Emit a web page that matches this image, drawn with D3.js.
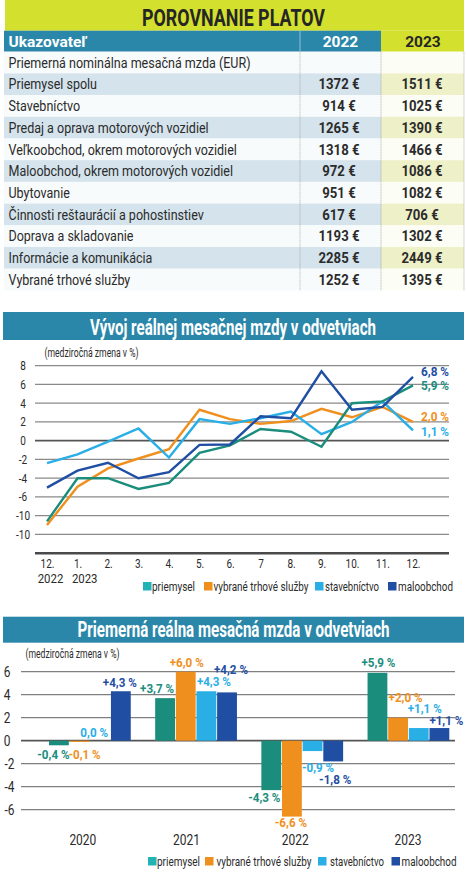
<!DOCTYPE html>
<html>
<head>
<meta charset="utf-8">
<script src="https://cdn.jsdelivr.net/npm/d3@7"></script>
<style>
  html, body { margin: 0; padding: 0; background: #ffffff; }
  svg { display: block; }
  text { font-family: Roboto, "Noto Sans", "DejaVu Sans", sans-serif; }
</style>
</head>
<body>
<svg id="chart" width="466" height="876"></svg>
<script>
// ---------------- DATA ----------------
const tableTitle = "POROVNANIE PLATOV";
const tableHeader = ["Ukazovateľ", "2022", "2023"];
const tableRows = [
  "Priemerná nominálna mesačná mzda (EUR)",
  "Priemysel spolu",
  "Stavebníctvo",
  "Predaj a oprava motorových vozidiel",
  "Veľkoobchod, okrem motorových vozidiel",
  "Maloobchod, okrem motorových vozidiel",
  "Ubytovanie",
  "Činnosti reštaurácií a pohostinstiev",
  "Doprava a skladovanie",
  "Informácie a komunikácia",
  "Vybrané trhové služby"
];
const wages2022 = [null, 1372, 914, 1265, 1318, 972, 951, 617, 1193, 2285, 1252];
const wages2023 = [null, 1511, 1025, 1390, 1466, 1086, 1082, 706, 1302, 2449, 1395];

const lineTitle = "Vývoj reálnej mesačnej mzdy v odvetviach";
const unitLabel = "(medziročná zmena v %)";
const monthLabels = ["12.", "1.", "2.", "3.", "4.", "5.", "6.", "7", "8.", "9.", "10.", "11.", "12."];
const monthYearLabels = ["2022", "2023", "", "", "", "", "", "", "", "", "", "", ""];
const seriesNames = ["priemysel", "vybrané trhové služby", "stavebníctvo", "maloobchod"];
const linePriemysel   = [-8.6, -4.0, -4.0, -5.15, -4.5, -1.3, -0.5, 1.25, 0.95, -0.65, 4.0, 4.2, 5.9];
const lineSluzby      = [-9.0, -4.9, -2.95, -1.9, -0.9, 3.3, 2.3, 1.8, 2.1, 3.4, 2.5, 3.6, 2.0];
const lineStavebnictvo= [-2.4, -1.45, -0.1, 1.3, -1.8, 2.3, 1.8, 2.4, 3.1, 0.7, 2.0, 4.2, 1.1];
const lineMaloobchod  = [-5.0, -3.2, -2.35, -4.0, -3.35, -0.45, -0.4, 2.6, 2.4, 7.4, 3.3, 3.6, 6.8];
const lineEndLabels = ["5,9 %", "2,0 %", "1,1 %", "6,8 %"];
const lineYTicks = [8, 6, 4, 2, 0, -2, -4, -6, -8, -10];
const lineYTickLabels = ["8", "6", "4", "2", "0", "-2", "-4", "-6", "-10", "-10"];

const barTitle = "Priemerná reálna mesačná mzda v odvetviach";
const barYears = ["2020", "2021", "2022", "2023"];
const barPriemysel    = [-0.4, 3.7, -4.3, 5.9];
const barSluzby       = [-0.1, 6.0, -6.6, 2.0];
const barStavebnictvo = [0.0, 4.3, -0.9, 1.1];
const barMaloobchod   = [4.3, 4.2, -1.8, 1.1];
const barYTicks = [6, 4, 2, 0, -2, -4, -6];

// ---------------- STYLE ----------------
const lime = "#d3e02d";
const limeLight = "#eef1c8";
const tealHeader = "#2b87a9";
const rowBlue = "#d4e3ec";
const rowWhite = "#f8fbfc";
const textDark = "#2b2b2b";
const lineColors = ["#1b8d7d", "#ef901e", "#2aaee6", "#1f4ea3"];
const swatchColors = ["#22b3b6", "#ef901e", "#2aaee6", "#1f4ea3"];
const labelColors = ["#1b8d7d", "#ef901e", "#2aaee6", "#1f4ea3"];

const svg = d3.select("#chart");

// condensed-font emulation: measure sample, derive horizontal factor
function factor(sample, size, weight, target) {
  const t = svg.append("text").attr("font-size", size).attr("font-weight", weight).text(sample);
  const w = t.node().getComputedTextLength();
  t.remove();
  return target / w;
}
function cond(sel, k) {
  sel.each(function () {
    const w = this.getComputedTextLength();
    if (w > 0) d3.select(this).attr("textLength", w * k).attr("lengthAdjust", "spacingAndGlyphs");
  });
  return sel;
}
function txt(x, y, s, size, weight, fill, anchor, k) {
  const t = svg.append("text").attr("x", x).attr("y", y).attr("font-size", size)
    .attr("font-weight", weight).attr("fill", fill).attr("text-anchor", anchor).text(s);
  if (k) cond(t, k);
  return t;
}

// ================= TABLE =================
const T = { left: 4, right: 464, c1: 300, c2: 381, headTop: 30.7, headH: 21, rowTop: 51.7, rowH: 21.7 };

svg.append("rect").attr("x", 5).attr("y", 0).attr("width", 459).attr("height", 30.7).attr("fill", lime);
txt(233.5, 25.5, tableTitle, 24.5, "bold", "#262626", "middle", factor(tableTitle, 24.5, "bold", 183));

svg.append("rect").attr("x", T.left).attr("y", T.headTop).attr("width", T.c2 - T.left).attr("height", T.headH).attr("fill", tealHeader);
svg.append("rect").attr("x", T.c2).attr("y", T.headTop).attr("width", T.right - T.c2).attr("height", T.headH).attr("fill", lime);
svg.append("line").attr("x1", T.c1).attr("x2", T.c1).attr("y1", T.headTop).attr("y2", T.headTop + T.headH).attr("stroke", "#8dbfd2").attr("stroke-width", 1);
const kHead = factor("Ukazovateľ", 15.5, "bold", 78);
txt(8.5, T.headTop + 16, tableHeader[0], 15.5, "bold", "#fff", "start", kHead);
txt(340.5, T.headTop + 16, tableHeader[1], 15.5, "bold", "#fff", "middle", kHead);
txt(423, T.headTop + 16, tableHeader[2], 15.5, "bold", "#262626", "middle", kHead);

const fmtEur = v => v == null ? "" : d3.format("d")(v) + " €";
const kRow = factor(tableRows[0], 15.5, "normal", 242);
const kVal = factor("1372 €", 15.5, "bold", 41);
tableRows.forEach((name, i) => {
  const y = T.rowTop + i * T.rowH;
  const blue = i % 2 === 1;
  svg.append("rect").attr("x", T.left).attr("y", y).attr("width", T.c2 - T.left).attr("height", T.rowH).attr("fill", blue ? rowBlue : rowWhite);
  svg.append("rect").attr("x", T.c2).attr("y", y).attr("width", T.right - T.c2).attr("height", T.rowH).attr("fill", blue ? limeLight : "#fcfdf4");
  txt(8.5, y + 16, name, 15.5, "normal", textDark, "start", kRow);
  if (wages2022[i] != null) txt(339, y + 16, fmtEur(wages2022[i]), 15.5, "bold", textDark, "middle", kVal);
  if (wages2023[i] != null) txt(422, y + 16, fmtEur(wages2023[i]), 15.5, "bold", textDark, "middle", kVal);
});
const tableBottom = T.rowTop + tableRows.length * T.rowH;
[T.c1, T.c2, T.right].forEach(x => {
  svg.append("line").attr("x1", x).attr("x2", x).attr("y1", T.rowTop).attr("y2", tableBottom)
    .attr("stroke", "#9a9a9a").attr("stroke-width", 0.8).attr("stroke-dasharray", "1,1");
});

// ================= LINE CHART =================
svg.append("rect").attr("x", 3).attr("y", 312).attr("width", 461).attr("height", 28).attr("fill", tealHeader);
txt(233, 334.5, lineTitle, 22.5, "bold", "#fff", "middle", factor(lineTitle, 22.5, "bold", 286));
const kUnit = factor(unitLabel, 12, "normal", 94);
txt(44.5, 357, unitLabel, 12, "normal", textDark, "start", kUnit);

const kTick = factor("-10", 13, "normal", 14);
const lx = d3.scalePoint().domain(d3.range(monthLabels.length)).range([47, 413]);
const ly = d3.scaleLinear().domain([-12, 8]).range([553.2, 365.7]);
lineYTicks.forEach((t, i) => {
  svg.append("line").attr("x1", 35).attr("x2", 449).attr("y1", ly(t)).attr("y2", ly(t))
    .attr("stroke", t === 0 ? "#555" : "#8a8a8a").attr("stroke-width", t === 0 ? 1.8 : 1.3);
  txt(23, ly(t) + 4.5, lineYTickLabels[i], 13, "normal", textDark, "middle", kTick);
});
const lxAxis = d3.axisBottom(lx).tickSize(0).tickFormat(i => monthLabels[i]);
const axG = svg.append("g").attr("transform", `translate(0,${ly(-12)})`).call(lxAxis);
axG.select(".domain").remove();
axG.selectAll(".tick text").attr("font-size", 13).attr("fill", textDark).attr("dy", 0).attr("y", 15)
  .attr("font-family", "Roboto, sans-serif");
cond(axG.selectAll(".tick text"), kTick);
svg.append("line").attr("x1", 35).attr("x2", 449).attr("y1", ly(-12)).attr("y2", ly(-12)).attr("stroke", "#4a4a4a").attr("stroke-width", 2.5);
const kYear = factor("2022", 13, "normal", 25.6);
const yearX = [50.5, 84.7];
monthYearLabels.forEach((lab, i) => {
  if (lab) txt(yearX[i], 583, lab, 13, "normal", textDark, "middle", kYear);
});

const lineSeries = [linePriemysel, lineSluzby, lineStavebnictvo, lineMaloobchod];
const lineGen = d3.line().x((d, i) => lx(i)).y(d => ly(d));
[1, 2, 0, 3].forEach(s => {
  svg.append("path").datum(lineSeries[s]).attr("d", lineGen).attr("fill", "none")
    .attr("stroke", lineColors[s]).attr("stroke-width", 2.4).attr("stroke-linejoin", "miter");
});
const endDy = [4.6, -1.3, 5.6, -1];
const kEnd = factor("6,8 %", 13.5, "bold", 28);
lineSeries.forEach((ser, s) => {
  txt(421, ly(ser[ser.length - 1]) + endDy[s], lineEndLabels[s], 13.5, "bold", labelColors[s], "start", kEnd);
});

const legendWidths = [43, 95, 54, 55];
function legend(y, xs) {
  seriesNames.forEach((n, i) => {
    svg.append("rect").attr("x", xs[i][0]).attr("y", y - 4.5).attr("width", 8.5).attr("height", 8.5).attr("fill", swatchColors[i]);
    txt(xs[i][1], y + 4.5, n, 13, "normal", textDark, "start", factor(n, 13, "normal", legendWidths[i]));
  });
}
legend(586.5, [[143, 152], [204, 213.5], [315, 325], [388, 398]]);

// ================= BAR CHART =================
svg.append("rect").attr("x", 3).attr("y", 616.7).attr("width", 461).attr("height", 26).attr("fill", tealHeader);
txt(233.5, 636.5, barTitle, 22.5, "bold", "#fff", "middle", factor(barTitle, 22.5, "bold", 312));
txt(25.5, 658, unitLabel, 12, "normal", textDark, "start", kUnit);

const by = d3.scaleLinear().domain([-6, 6]).range([809.7, 671.7]);
const bx0 = d3.scaleBand().domain(barYears).range([49, 449.3]).paddingInner(0.23).paddingOuter(0);
const bx1 = d3.scaleBand().domain(d3.range(4)).range([0, bx0.bandwidth()]).paddingInner(0.04);
const kBTick = factor("-6", 14, "normal", 10);
barYTicks.forEach(t => {
  svg.append("line").attr("x1", 21).attr("x2", 455).attr("y1", by(t)).attr("y2", by(t))
    .attr("stroke", t === 0 ? "#555" : "#808080").attr("stroke-width", t === 0 ? 1.8 : 1.3);
  txt(t < 0 ? 9.5 : 7, by(t) + 5, String(t), 14, "normal", textDark, "middle", kBTick);
});
const barSeries = [barPriemysel, barSluzby, barStavebnictvo, barMaloobchod];
const fmtPct = v => (v > 0 ? "+" : "") + d3.format(".1f")(v).replace("−", "-").replace(".", ",") + " %";
// label nudges [dx, dy] per series / year
const nudge = [
  [[-5.5, 2], [-8, 0], [-7, 0], [1, -1]],
  [[5, 5], [1, 0], [-1, -2], [7.5, -11]],
  [[-6, 1], [7.5, 0], [5.5, 9], [6, -10]],
  [[-1, 1], [4, -13], [2, 10.6], [7, 2]]
];
const kBar = factor("+4,3 %", 13, "bold", 34);
barSeries.forEach((ser, s) => {
  ser.forEach((v, yi) => {
    const x = bx0(barYears[yi]) + bx1(s);
    const w = bx1.bandwidth();
    svg.append("rect").attr("x", x).attr("y", by(Math.max(0, v))).attr("width", w)
      .attr("height", Math.abs(by(v) - by(0))).attr("fill", lineColors[s]);
    const ty = v >= 0 ? by(v) - 5 : by(v) + 12;
    txt(x + w / 2 + nudge[s][yi][0], ty + nudge[s][yi][1], fmtPct(v), 13, "bold", labelColors[s], "middle", kBar);
  });
});
const kBYear = factor("2020", 14, "normal", 27);
const yearShift = [-7, -9.5, -7, -0.5];
barYears.forEach((yr, i) => {
  txt(bx0(yr) + bx0.bandwidth() / 2 + yearShift[i], 845, yr, 14, "normal", textDark, "middle", kBYear);
});
legend(861.5, [[148, 157], [205, 216.5], [318, 330], [391.5, 401.5]]);
</script>
</body>
</html>
